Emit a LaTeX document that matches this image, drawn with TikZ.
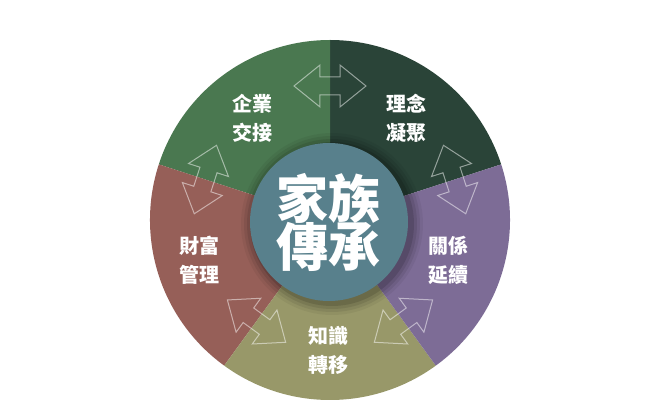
\documentclass[tikz,border=0pt]{standalone}
\usepackage{fontspec}
\newfontfamily\cjk{Noto Sans CJK TC}
\definecolor{cgreen}{HTML}{4A7850}
\definecolor{cdark}{HTML}{2A4438}
\definecolor{cpurple}{HTML}{7D6C96}
\definecolor{colive}{HTML}{989869}
\definecolor{cred}{HTML}{965F58}
\definecolor{cteal}{HTML}{58808C}
\tikzset{
  sector/.style={draw=none},
  lbl/.style={text=white, font=\cjk\bfseries\fontsize{20}{29}\selectfont, align=center, inner sep=0pt},
  hub/.style={circle, fill=cteal, minimum size=158pt, inner sep=0pt, text=white, align=center, font=\cjk\bfseries\fontsize{52}{54}\selectfont},
  dblarrow/.style={draw=white, draw opacity=0.5, line width=1pt, line join=miter, fill=none}
}
\newcommand\myarrow[2]{%
  \draw[dblarrow, shift={(#1:#2)}, rotate=#1+90]
    (36,0) -- (10,21) -- (10,9) -- (-10,9) -- (-10,21) -- (-36,0)
    -- (-10,-21) -- (-10,-9) -- (10,-9) -- (10,-21) -- cycle;}
\begin{document}
\begin{tikzpicture}[x=1pt,y=1pt]
\useasboundingbox[fill=white] (-330,-200) rectangle (315,220);
% sectors
\fill[cdark]   (0,0) -- (18:180)  arc[start angle=18,  end angle=90,  radius=180] -- cycle;
\fill[cgreen]  (0,0) -- (90:180)  arc[start angle=90,  end angle=162, radius=180] -- cycle;
\fill[cred]    (0,0) -- (162:180) arc[start angle=162, end angle=234, radius=180] -- cycle;
\fill[colive]  (0,0) -- (234:180) arc[start angle=234, end angle=306, radius=180] -- cycle;
\fill[cpurple] (0,0) -- (306:180) arc[start angle=306, end angle=378, radius=180] -- cycle;
% arrows
\myarrow{90}{134}
\myarrow{18}{131}
\myarrow{-54}{125}
\myarrow{-126}{125}
\myarrow{162}{131}
% hub shadow
\foreach \r/\o in {91/0.05, 88/0.07, 85/0.09, 82/0.12} {
  \fill[black, opacity=\o] (2,-4) circle[radius=\r];
}
\node[hub] (hub) at (-1,-2) {家族\\[-6pt]傳承};
% labels
\node[lbl] (l1) at (-77,102) {企業\\交接};
\node[lbl] (l2) at (76,102) {理念\\凝聚};
\node[lbl] (l3) at (118,-40) {關係\\延續};
\node[lbl] (l4) at (-1,-130) {知識\\轉移};
\node[lbl] (l5) at (-130,-40) {財富\\管理};
\end{tikzpicture}
\end{document}
